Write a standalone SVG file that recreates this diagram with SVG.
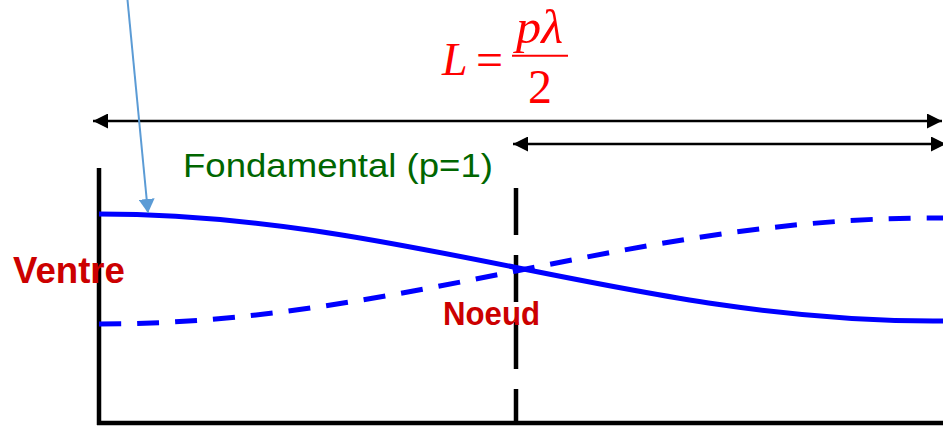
<svg xmlns="http://www.w3.org/2000/svg" width="943" height="429" viewBox="0 0 943 429">
  <style>
    .axis { stroke: #000; stroke-width: 4.5; fill: none; }
    .dim { stroke: #000; stroke-width: 2.5; fill: none; }
    .wave { stroke: #0000FF; stroke-width: 5; fill: none; }
    .dashed { stroke-dasharray: 22 16; }
    .lbl { font-family: "Liberation Sans", Arial, sans-serif; font-weight: bold; fill: #CC0000; }
    .math { font-family: "Liberation Serif", "Times New Roman", serif; font-style: italic; fill: #FF0000; }
  </style>
  <defs>
    <marker id="ah" viewBox="0 0 15 15" refX="15" refY="7.5" markerWidth="15" markerHeight="15" markerUnits="userSpaceOnUse" orient="auto-start-reverse">
      <path d="M0,0 L15,7.5 L0,15 Z" fill="#000"/>
    </marker>
    <marker id="ahb" viewBox="0 0 14 16" refX="14" refY="8" markerWidth="14" markerHeight="16" markerUnits="userSpaceOnUse" orient="auto">
      <path d="M0,0 L14,8 L0,16 Z" fill="#5B9BD5"/>
    </marker>
  </defs>

  <g id="axes">
    <line class="axis" x1="99" y1="168" x2="99" y2="425"/>
    <line class="axis" x1="97" y1="423" x2="943" y2="423"/>
    <line class="axis" x1="516" y1="188" x2="516" y2="425" stroke-width="5" stroke-dasharray="47 20"/>
  </g>

  <g id="waves">
    <path class="wave" d="M99,214 C402,214 630,321 933,321 L943,321"/>
    <path class="wave dashed" d="M99,324 C402,324 630,218 933,218 L943,218"/>
  </g>

  <g id="connectors">
    <line class="dim" x1="93" y1="121" x2="942" y2="121" marker-start="url(#ah)" marker-end="url(#ah)"/>
    <line class="dim" x1="513" y1="144" x2="946" y2="144" marker-start="url(#ah)" marker-end="url(#ah)"/>
    <line x1="127.5" y1="0" x2="148" y2="213" stroke="#5B9BD5" stroke-width="2" marker-end="url(#ahb)"/>
  </g>

  <g id="formula">
    <text class="math" x="442" y="75" font-size="46">L</text>
    <text x="476" y="76" font-size="48" font-family="Liberation Serif, serif" fill="#FF0000">=</text>
    <text class="math" x="516" y="43" font-size="48" textLength="47" lengthAdjust="spacingAndGlyphs">pλ</text>
    <line x1="512" y1="55.7" x2="568" y2="55.7" stroke="#FF0000" stroke-width="2"/>
    <text x="528" y="103" font-size="48" font-family="Liberation Serif, serif" fill="#FF0000">2</text>
  </g>

  <g id="label-fondamental">
    <text x="183" y="177" font-family="Liberation Sans, Arial, sans-serif" font-size="34" fill="#006600" textLength="310" lengthAdjust="spacingAndGlyphs">Fondamental (p=1)</text>
  </g>
  <g id="label-ventre">
    <text class="lbl" x="13" y="283" font-size="36" textLength="112" lengthAdjust="spacingAndGlyphs">Ventre</text>
  </g>
  <g id="label-noeud">
    <text class="lbl" x="443" y="325" font-size="34" textLength="97" lengthAdjust="spacingAndGlyphs">Noeud</text>
  </g>
</svg>
